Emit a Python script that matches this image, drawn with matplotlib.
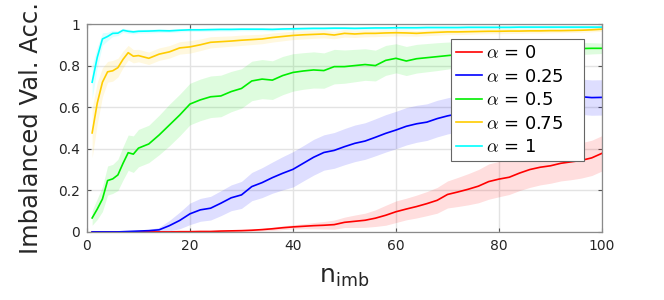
import numpy as np
import matplotlib
matplotlib.use('Agg')
import matplotlib.pyplot as plt

## DATA
# =============================================================================
n_imb = [1, 2, 3, 4, 5, 6, 7, 8, 9, 10,
         12, 14, 16, 18, 20, 22, 24, 26, 28, 30,
         32, 34, 36, 38, 40, 42, 44, 46, 48, 50,
         52, 54, 56, 58, 60, 62, 64, 66, 68, 70,
         72, 74, 76, 78, 80, 82, 84, 86, 88, 90,
         92, 94, 96, 98, 100]

alphas = ['0', '0.25', '0.5', '0.75', '1']

# alpha = 0
acc_a0 = [0, 0, 0, 0, 0, 0, 0, 0, 0, 0,
          0, 0, 0, 0.001, 0.001, 0.002, 0.002, 0.004, 0.005, 0.006,
          0.008, 0.011, 0.015, 0.02, 0.024, 0.027, 0.03, 0.032, 0.035, 0.046,
          0.051, 0.056, 0.066, 0.08, 0.097, 0.11, 0.122, 0.136, 0.152, 0.18,
          0.192, 0.205, 0.22, 0.242, 0.254, 0.263, 0.283, 0.3, 0.311, 0.318,
          0.33, 0.337, 0.344, 0.356, 0.378]
std_a0 = [0, 0, 0, 0, 0, 0, 0, 0, 0, 0,
          0, 0, 0, 0.001, 0.001, 0.002, 0.002, 0.003, 0.003, 0.004,
          0.005, 0.006, 0.008, 0.009, 0.01, 0.012, 0.015, 0.018, 0.022, 0.025,
          0.03, 0.034, 0.04, 0.048, 0.052, 0.052, 0.055, 0.058, 0.062, 0.065,
          0.07, 0.075, 0.08, 0.085, 0.085, 0.083, 0.084, 0.086, 0.085, 0.084,
          0.085, 0.086, 0.085, 0.085, 0.085]

# alpha = 0.25
acc_a25 = [0, 0, 0, 0, 0, 0, 0.001, 0.002, 0.003, 0.004,
           0.006, 0.01, 0.03, 0.055, 0.087, 0.106, 0.114, 0.138, 0.164, 0.178,
           0.218, 0.237, 0.261, 0.282, 0.301, 0.33, 0.359, 0.382, 0.392, 0.41,
           0.426, 0.437, 0.455, 0.474, 0.49, 0.508, 0.52, 0.528, 0.545, 0.558,
           0.568, 0.578, 0.588, 0.597, 0.605, 0.612, 0.62, 0.626, 0.631, 0.636,
           0.64, 0.643, 0.65, 0.646, 0.647]
std_a25 = [0, 0, 0, 0, 0.001, 0.001, 0.002, 0.002, 0.002, 0.003,
           0.005, 0.012, 0.025, 0.04, 0.052, 0.055, 0.057, 0.06, 0.062, 0.065,
           0.068, 0.072, 0.075, 0.08, 0.085, 0.085, 0.086, 0.085, 0.086, 0.087,
           0.088, 0.088, 0.089, 0.09, 0.09, 0.09, 0.089, 0.088, 0.088, 0.087,
           0.087, 0.086, 0.086, 0.085, 0.085, 0.085, 0.085, 0.085, 0.085, 0.085,
           0.085, 0.085, 0.085, 0.085, 0.085]

# alpha = 0.5
acc_a50 = [0.067, 0.11, 0.158, 0.247, 0.255, 0.274, 0.33, 0.381, 0.374, 0.403,
           0.423, 0.466, 0.514, 0.562, 0.615, 0.635, 0.65, 0.654, 0.675, 0.69,
           0.726, 0.735, 0.73, 0.752, 0.767, 0.774, 0.779, 0.776, 0.795, 0.795,
           0.8, 0.805, 0.8, 0.825, 0.835, 0.822, 0.833, 0.838, 0.843, 0.848,
           0.853, 0.858, 0.862, 0.866, 0.869, 0.872, 0.874, 0.876, 0.877, 0.879,
           0.88, 0.881, 0.882, 0.883, 0.883]
std_a50 = [0.035, 0.05, 0.06, 0.07, 0.07, 0.075, 0.08, 0.085, 0.088, 0.09,
           0.09, 0.095, 0.1, 0.1, 0.1, 0.1, 0.1, 0.1, 0.097, 0.095,
           0.095, 0.094, 0.093, 0.092, 0.09, 0.088, 0.087, 0.085, 0.083, 0.08,
           0.078, 0.076, 0.074, 0.072, 0.07, 0.07, 0.069, 0.068, 0.067, 0.065,
           0.062, 0.059, 0.056, 0.053, 0.05, 0.047, 0.044, 0.041, 0.038, 0.035,
           0.033, 0.031, 0.029, 0.027, 0.025]

# alpha = 0.75
acc_a75 = [0.476, 0.62, 0.72, 0.77, 0.775, 0.79, 0.83, 0.862, 0.845, 0.848,
           0.835, 0.855, 0.866, 0.885, 0.89, 0.9, 0.912, 0.915, 0.918, 0.922,
           0.925, 0.928, 0.935, 0.94, 0.945, 0.948, 0.95, 0.952, 0.947, 0.955,
           0.952, 0.955, 0.955, 0.957, 0.958, 0.957, 0.955, 0.958, 0.96, 0.962,
           0.962, 0.963, 0.964, 0.965, 0.965, 0.966, 0.966, 0.967, 0.967, 0.968,
           0.968, 0.969, 0.97, 0.972, 0.975]
std_a75 = [0.12, 0.1, 0.07, 0.05, 0.05, 0.045, 0.04, 0.035, 0.032, 0.03,
           0.03, 0.03, 0.03, 0.03, 0.03, 0.028, 0.027, 0.026, 0.025, 0.025,
           0.024, 0.023, 0.022, 0.021, 0.02, 0.02, 0.019, 0.019, 0.018, 0.018,
           0.017, 0.017, 0.016, 0.016, 0.015, 0.015, 0.014, 0.014, 0.014, 0.013,
           0.013, 0.013, 0.012, 0.012, 0.012, 0.012, 0.011, 0.011, 0.011, 0.011,
           0.01, 0.01, 0.01, 0.01, 0.01]

# alpha = 1
acc_a100 = [0.72, 0.84, 0.928, 0.94, 0.955, 0.956, 0.97, 0.965, 0.962, 0.965,
            0.966, 0.968, 0.967, 0.97, 0.972, 0.972, 0.973, 0.974, 0.974, 0.975,
            0.975, 0.975, 0.974, 0.976, 0.977, 0.978, 0.979, 0.979, 0.98, 0.98,
            0.979, 0.98, 0.981, 0.981, 0.982, 0.982, 0.982, 0.983, 0.983, 0.983,
            0.983, 0.984, 0.984, 0.984, 0.984, 0.984, 0.985, 0.985, 0.985, 0.985,
            0.985, 0.985, 0.985, 0.985, 0.985]
std_a100 = [0.08, 0.05, 0.03, 0.02, 0.015, 0.012, 0.01, 0.01, 0.01, 0.009,
            0.009, 0.009, 0.008, 0.008, 0.008, 0.008, 0.008, 0.008, 0.008, 0.008,
            0.008, 0.008, 0.008, 0.008, 0.008, 0.008, 0.008, 0.008, 0.008, 0.008,
            0.008, 0.008, 0.008, 0.008, 0.008, 0.008, 0.008, 0.008, 0.008, 0.008,
            0.008, 0.008, 0.008, 0.008, 0.008, 0.008, 0.008, 0.008, 0.008, 0.008,
            0.008, 0.008, 0.008, 0.008, 0.008]

means = [acc_a0, acc_a25, acc_a50, acc_a75, acc_a100]
stds = [std_a0, std_a25, std_a50, std_a75, std_a100]
colors = ['#ff0000', '#0000ff', '#00ee00', '#ffcc00', '#00ffff']

## PLOT
# =============================================================================
plt.rcParams['font.family'] = 'DejaVu Sans'
plt.rcParams['mathtext.fontset'] = 'cm'

fig = plt.figure(figsize=(6.64, 3.0), dpi=100)
ax = fig.add_axes([0.131, 0.227, 0.7756, 0.693])

x = np.array(n_imb)
for m, s, c, a in zip(means, stds, colors, alphas):
    m = np.array(m)
    s = np.array(s)
    ax.fill_between(x, m - s, m + s, color=c, alpha=0.13, linewidth=0)
    ax.plot(x, m, color=c, lw=1.2, label=r'$\alpha$ = ' + a)

ax.set_xlim(0, 100)
ax.set_ylim(0, 1)
ax.set_xticks([0, 20, 40, 60, 80, 100])
ax.set_yticks([0, 0.2, 0.4, 0.6, 0.8, 1])
ax.set_yticklabels(['0', '0.2', '0.4', '0.6', '0.8', '1'])
ax.grid(True, color='#e3e3e3', lw=1)
ax.set_axisbelow(True)
for sp in ax.spines.values():
    sp.set_color('#8a8a8a')
    sp.set_linewidth(0.9)
ax.tick_params(direction='in', top=True, right=True, length=3,
               color='#555555', labelsize=10, labelcolor='#262626', pad=5)

ax.set_xlabel(r'n$_{\mathregular{imb}}$', fontsize=18, color='#262626', labelpad=9)
ax.set_ylabel('Imbalanced Val. Acc.', fontsize=17.5, color='#262626', labelpad=11)

# legend box stretched to the width seen in the reference
leg = ax.legend(loc='upper left', bbox_to_anchor=(0.706, 0.341, 0.259, 0.587),
                mode='expand', borderaxespad=0,
                fontsize=13, handlelength=1.45, handletextpad=0.2,
                labelspacing=0.3, borderpad=0.3, fancybox=False, framealpha=1)
leg.get_frame().set_edgecolor('#666666')
leg.get_frame().set_linewidth(0.8)

plt.savefig('out.png', dpi=100)
